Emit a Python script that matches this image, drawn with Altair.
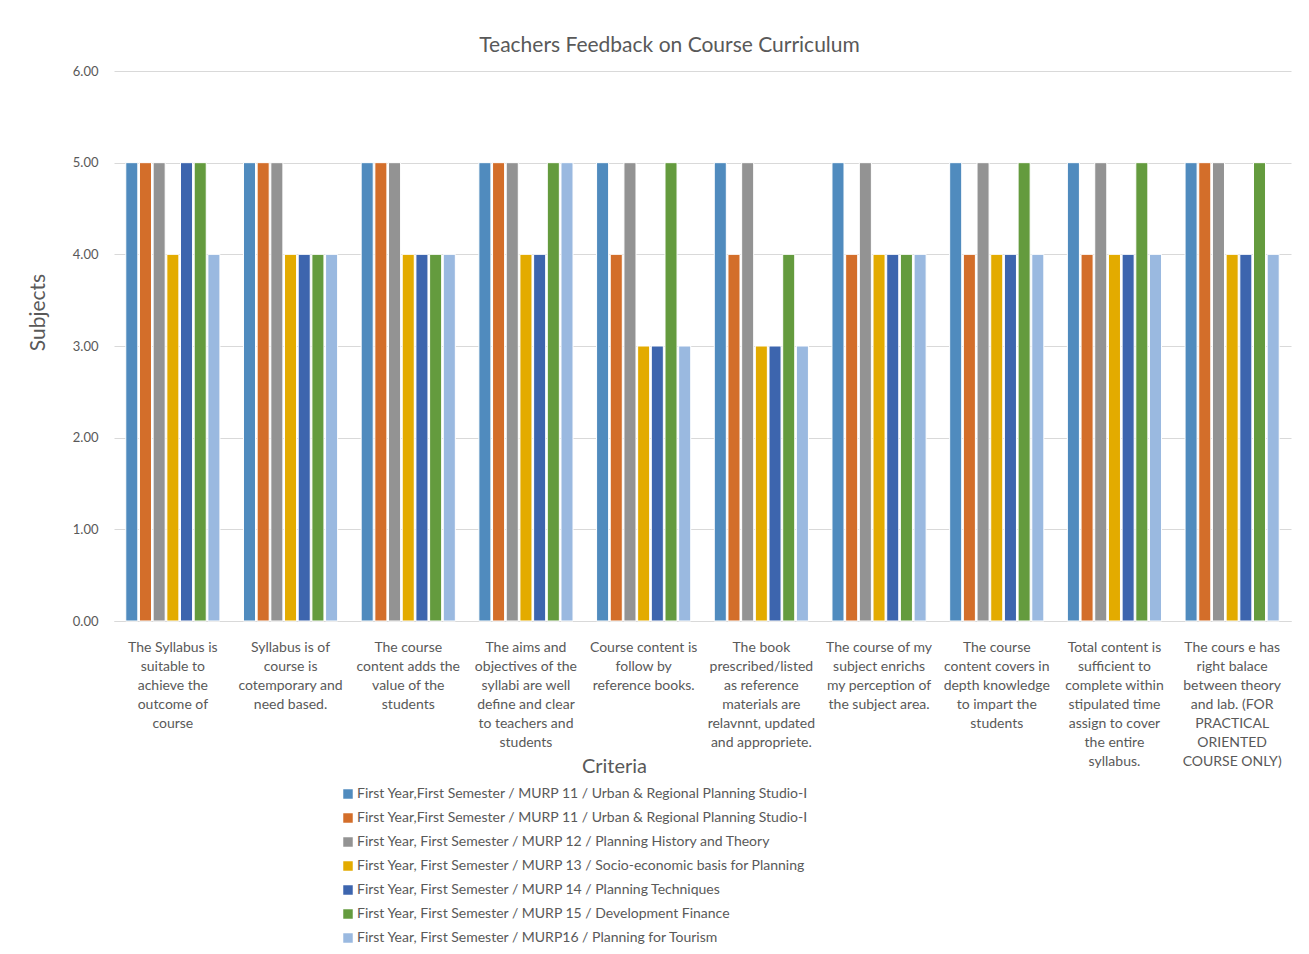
import altair as alt
import pandas as pd

criteria = [
    "The Syllabus is|suitable to|achieve the|outcome  of|course",
    "Syllabus is of|course is|cotemporary and|need based.",
    "The course|content adds the|value of the|students",
    "The aims and|objectives of the|syllabi are well|define and clear|to teachers and|students",
    "Course content is|follow by|reference books.",
    "The book|prescribed/listed|as reference|materials are|relavnnt, updated|and appropriete.",
    "The course of my|subject enrichs|my perception of|the subject area.",
    "The course|content covers in|depth knowledge|to impart the|students",
    "Total content is|sufficient to|complete within|stipulated time|assign to cover|the entire|syllabus.",
    "The cours e has|right balace|between theory|and lab. (FOR|PRACTICAL|ORIENTED|COURSE ONLY)",
]

series_names = [
    "First Year,First Semester / MURP 11 / Urban & Regional Planning Studio-I",
    "First Year,First Semester / MURP 11 / Urban & Regional Planning Studio-I",
    "First Year, First Semester / MURP 12 / Planning History and Theory",
    "First Year, First Semester / MURP 13 / Socio-economic basis for Planning",
    "First Year, First Semester / MURP 14 / Planning Techniques",
    "First Year, First Semester / MURP 15 / Development Finance",
    "First Year, First Semester / MURP16 / Planning for Tourism",
]

s1 = [5, 5, 5, 5, 5, 5, 5, 5, 5, 5]
s2 = [5, 5, 5, 5, 4, 4, 4, 4, 4, 5]
s3 = [5, 5, 5, 5, 5, 5, 5, 5, 5, 5]
s4 = [4, 4, 4, 4, 3, 3, 4, 4, 4, 4]
s5 = [5, 4, 4, 4, 3, 3, 4, 4, 4, 4]
s6 = [5, 4, 4, 5, 5, 4, 4, 5, 5, 5]
s7 = [4, 4, 4, 5, 3, 3, 4, 4, 4, 4]
series_values = [s1, s2, s3, s4, s5, s6, s7]

colors = ["#508BBE", "#D36E2A", "#939393", "#E3AB00", "#3D65AE", "#649B3E", "#9AB9E0"]

rows = []
for si, vals in enumerate(series_values):
    for ci, v in enumerate(vals):
        rows.append({"criteria": criteria[ci], "series": str(si), "value": v})
df = pd.DataFrame(rows)

series_ids = [str(i) for i in range(len(series_names))]
legend_expr = "[" + ",".join("'" + n + "'" for n in series_names) + "][toNumber(datum.label)]"

FONT = "Lato"
TXT = "#595959"

chart = alt.Chart(df).mark_bar(stroke="white", strokeWidth=1).encode(
    x=alt.X(
        "criteria:N",
        sort=criteria,
        scale=alt.Scale(paddingInner=0.2, paddingOuter=0.1),
        axis=alt.Axis(
            title="Criteria",
            labelExpr="split(datum.label, '|')",
            labelAngle=0,
            labelFontSize=14,
            labelLineHeight=19,
            labelPadding=19,
            labelColor=TXT,
            labelFont=FONT,
            labelLimit=200,
            ticks=False,
            domainColor="#D9D9D9",
            titleFontSize=20,
            titleFont=FONT,
            titleColor=TXT,
            titleFontWeight="normal",
            titleX=500,
            titleY=145,
            titleBaseline="middle",
        ),
    ),
    xOffset=alt.XOffset("series:N", sort=series_ids, scale=alt.Scale(paddingInner=0.12)),
    y=alt.Y(
        "value:Q",
        scale=alt.Scale(domain=[0, 6]),
        axis=alt.Axis(
            title="Subjects",
            values=[0, 1, 2, 3, 4, 5, 6],
            format=".2f",
            labelFontSize=13,
            labelColor=TXT,
            labelFont=FONT,
            labelPadding=16,
            ticks=False,
            domain=False,
            gridColor="#D9D9D9",
            gridWidth=1,
            titleFontSize=21,
            titleFont=FONT,
            titleColor=TXT,
            titleFontWeight="normal",
            titleX=-76,
            titleY=241,
            titleBaseline="middle",
        ),
    ),
    color=alt.Color(
        "series:N",
        sort=series_ids,
        scale=alt.Scale(domain=series_ids, range=colors),
        legend=alt.Legend(
            title=None,
            orient="none",
            legendX=227,
            legendY=716,
            direction="vertical",
            labelExpr=legend_expr,
            labelFont=FONT,
            labelFontSize=14,
            labelColor=TXT,
            labelLimit=600,
            symbolType="square",
            symbolSize=90,
            symbolStrokeWidth=0,
            rowPadding=10,
            labelOffset=2,
        ),
    ),
).properties(
    width=1177,
    height=550,
    title=alt.TitleParams(
        "Teachers Feedback on Course Curriculum",
        font=FONT,
        fontSize=21,
        fontWeight="normal",
        color=TXT,
        offset=9,
        dx=-33,
    ),
    autosize=alt.AutoSizeParams(type="none"),
    padding={"left": 106, "top": 63, "right": 8, "bottom": 330},
).configure_view(stroke=None)

chart.save("out.html", embed_options={"renderer": "svg", "actions": False})
